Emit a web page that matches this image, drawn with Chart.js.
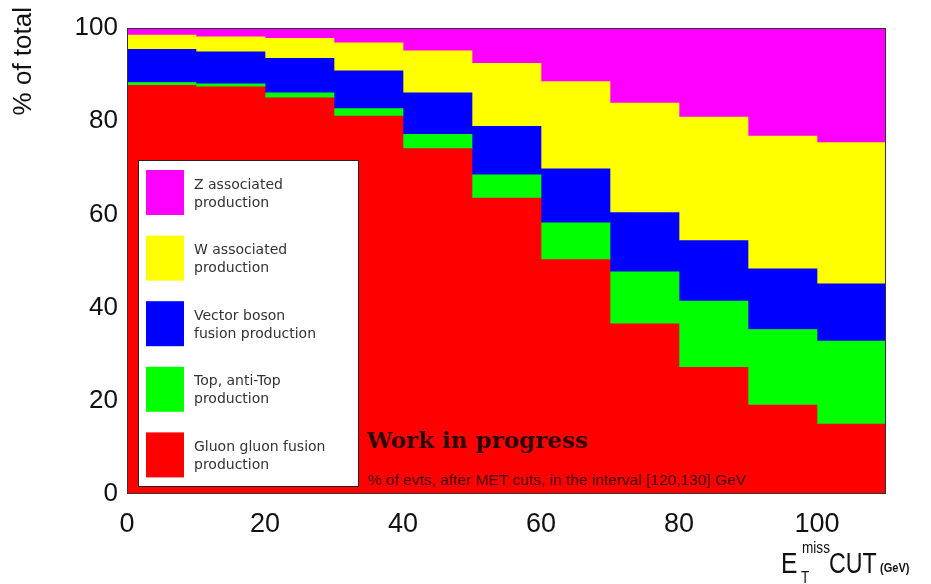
<!DOCTYPE html>
<html>
<head>
<meta charset="utf-8">
<script src="https://cdn.jsdelivr.net/npm/chart.js@4.4.1/dist/chart.umd.min.js"></script>
<style>
  html, body { margin: 0; padding: 0; background: #fff; }
  #wrap { width: 931px; height: 584px; position: relative; }
</style>
</head>
<body>
<div id="wrap"><canvas id="chart"></canvas></div>
<script>
// bin centres of the MET cut (GeV), bins 10 GeV wide
const cutBins = [5, 15, 25, 35, 45, 55, 65, 75, 85, 95, 105];

// % of events per production mode (stacked, bottom to top)
const ggF = [87.7, 87.4, 85.0, 81.1, 74.1, 63.5, 50.3, 36.5, 27.2, 19.1, 15.0];
const ttH = [0.6, 0.6, 1.1, 1.6, 3.1, 5.0, 7.9, 11.2, 14.2, 16.2, 17.8];
const vbf = [7.1, 6.9, 7.4, 8.1, 8.9, 10.4, 11.6, 12.7, 13.0, 13.0, 12.3];
const wh  = [3.1, 3.2, 4.3, 6.0, 9.0, 13.5, 18.7, 23.5, 26.5, 28.5, 30.3];
const zh  = [1.5, 1.9, 2.2, 3.2, 4.9, 7.6, 11.5, 16.1, 19.1, 23.2, 24.6];

const seriesNames = [
    ['Gluon gluon fusion', 'production'],
    ['Top, anti-Top', 'production'],
    ['Vector boson', 'fusion production'],
    ['W associated', 'production'],
    ['Z associated', 'production']
];
const seriesColors = ['#ff0000', '#00ff00', '#0000ff', '#ffff00', '#ff00ff'];
const seriesValues = [ggF, ttH, vbf, wh, zh];

const xTicks = [0, 20, 40, 60, 80, 100];
const yTicks = [0, 20, 40, 60, 80, 100];

const datasets = seriesValues.map((vals, i) => ({
    label: seriesNames[i].join(' '),
    data: cutBins.map((x, j) => ({ x: x, y: vals[j] })),
    backgroundColor: seriesColors[i],
    borderWidth: 0,
    barPercentage: 1.0,
    categoryPercentage: 1.0
}));

// draws text squeezed horizontally, like the narrow labels of the original
function narrowText(c, text, x, y, sx) {
    c.save();
    c.translate(x, y);
    c.scale(sx, 1);
    c.fillText(text, 0, 0);
    c.restore();
}

// frame, legend box and the free text of the plot
const extras = {
    id: 'extras',
    afterDatasetsDraw(chart) {
        const c = chart.ctx;
        const a = chart.chartArea;
        c.save();

        // frame
        c.strokeStyle = '#333';
        c.lineWidth = 1;
        c.strokeRect(a.left + 0.5, a.top + 0.5, a.right - a.left - 1, a.bottom - a.top - 1);

        // legend box (top entry = top of the stack)
        c.fillStyle = '#fff';
        c.fillRect(138, 160, 221, 327);
        c.strokeStyle = '#222';
        c.strokeRect(138.5, 160.5, 220, 326);
        const n = chart.data.datasets.length;
        for (let k = 0; k < n; k++) {
            const ds = chart.data.datasets[n - 1 - k];
            const names = seriesNames[n - 1 - k];
            const top = 170 + k * 65.6;
            c.fillStyle = ds.backgroundColor;
            c.fillRect(146, top, 38, 45);
            c.fillStyle = '#333';
            c.font = '14px "DejaVu Sans"';
            c.textBaseline = 'middle';
            c.textAlign = 'left';
            c.fillText(names[0], 194, top + 15);
            c.fillText(names[1], 194, top + 33);
        }

        // work in progress
        c.fillStyle = '#2e0000';
        c.font = 'bold 23px "DejaVu Serif"';
        c.textBaseline = 'alphabetic';
        c.fillText('Work in progress', 367, 448);
        c.fillStyle = '#3c0000';
        c.font = '15.5px "Liberation Sans"';
        c.fillText('% of evts, after MET cuts, in the interval [120,130] GeV', 368, 485);

        // y title
        c.save();
        c.translate(24, 7);
        c.rotate(-Math.PI / 2);
        c.fillStyle = '#111';
        c.font = '26px "Liberation Sans"';
        c.textAlign = 'right';
        c.textBaseline = 'middle';
        c.fillText('% of total', 0, 0);
        c.restore();

        // x title: E_T^miss CUT (GeV)
        c.fillStyle = '#111';
        c.textAlign = 'left';
        c.textBaseline = 'alphabetic';
        c.font = '29px "Liberation Sans"';
        narrowText(c, 'E', 781, 573, 0.85);
        c.font = '16px "Liberation Sans"';
        narrowText(c, 'miss', 802, 553, 0.85);
        narrowText(c, 'T', 801, 583, 0.85);
        c.font = '29px "Liberation Sans"';
        narrowText(c, 'CUT', 829, 573, 0.8);
        c.font = 'bold 13px "Liberation Sans"';
        narrowText(c, '(GeV)', 880, 572, 0.85);

        c.restore();
    }
};

const ctx = document.getElementById('chart').getContext('2d');

const chart = new Chart(ctx, {
    type: 'bar',
    data: { datasets: datasets },
    options: {
        responsive: true,
        maintainAspectRatio: false,
        animation: false,
        layout: { padding: { top: 28, right: 45, left: 0, bottom: 0 } },
        plugins: {
            legend: { display: false },
            tooltip: { enabled: false }
        },
        scales: {
            x: {
                type: 'linear',
                stacked: true,
                offset: false,
                min: 0,
                max: 110,
                grid: { display: false, offset: false },
                border: { display: false },
                afterBuildTicks: s => { s.ticks = xTicks.map(v => ({ value: v })); },
                afterFit: s => { s.height = 90; },
                ticks: {
                    padding: 6,
                    maxRotation: 0,
                    color: '#111',
                    font: { family: 'Liberation Sans', size: 27 }
                }
            },
            y: {
                stacked: true,
                min: 0,
                max: 100,
                grid: { display: false },
                border: { display: false },
                afterBuildTicks: s => { s.ticks = yTicks.map(v => ({ value: v })); },
                afterFit: s => { s.width = 127; },
                ticks: {
                    padding: 1,
                    color: '#111',
                    font: { family: 'Liberation Sans', size: 26 }
                }
            }
        }
    },
    plugins: [extras]
});
</script>
</body>
</html>
